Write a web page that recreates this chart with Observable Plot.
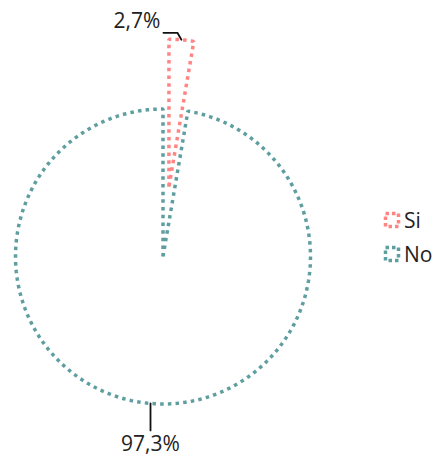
<!DOCTYPE html>
<html>
<head>
<meta charset="utf-8">
<script src="https://cdn.jsdelivr.net/npm/d3@7"></script>
<script src="https://cdn.jsdelivr.net/npm/@observablehq/plot@0.6"></script>
<style>
  html, body { margin: 0; padding: 0; background: #fff; }
  #wrap { position: relative; width: 435px; height: 457px; font-family: "Open Sans", sans-serif; }
  #chart { position: absolute; left: 0; top: 0; }
  #legend { position: absolute; left: 383px; top: 203px; font-size: 21px; color: #222; }
  .item { display: flex; align-items: center; height: 34px; }
  .item svg { margin-right: 3px; }
</style>
</head>
<body>
<div id="wrap"><div id="chart"></div><div id="legend"></div></div>
<script>
// ---- data ----
const categories = ["Si", "No"];
const values = [2.7, 97.3];
const labels = ["2,7%", "97,3%"];
const colors = ["#ff8585", "#5f9ea0"];

// ---- layout constants ----
const W = 435, H = 457;
const R = 147.5;           // pie radius in px
const CX = 162.5, CY = 256; // pie centre in px
const EXPLODE_PX = 70;     // offset for the pulled-out slice

const pie = d3.pie().sort(null).value(d => d.value)(
  categories.map((c, i) => ({category: c, value: values[i], label: labels[i]}))
);

const ex = EXPLODE_PX / R;
const outline = [];
const labelPts = [];
pie.forEach((s, i) => {
  const mid = (s.startAngle + s.endAngle) / 2;
  const off = i === 0 ? ex : 0;
  const ox = off * Math.sin(mid), oy = off * Math.cos(mid);
  const cat = s.data.category;
  outline.push({x: ox, y: oy, category: cat});
  const n = Math.max(4, Math.ceil((s.endAngle - s.startAngle) / (Math.PI / 180)));
  for (let k = 0; k <= n; k++) {
    const a = s.startAngle + (s.endAngle - s.startAngle) * k / n;
    outline.push({x: ox + Math.sin(a), y: oy + Math.cos(a), category: cat});
  }
  outline.push({x: ox, y: oy, category: cat});
  const px = ox + Math.sin(mid), py = oy + Math.cos(mid);
  labelPts.push({x: px, y: py, label: s.data.label, top: Math.cos(mid) > 0});
});

// leader lines built from the arc midpoints
const lead = [];
labelPts.forEach((p, i) => {
  if (p.top) {
    lead.push({x: p.x, y: p.y, g: i});
    lead.push({x: p.x - 4 / R, y: p.y + 7 / R, g: i});
    lead.push({x: p.x - 18 / R, y: p.y + 7 / R, g: i});
  } else {
    lead.push({x: p.x, y: p.y, g: i});
    lead.push({x: p.x, y: p.y - 27 / R, g: i});
  }
});

const chart = Plot.plot({
  width: W,
  height: H,
  margin: 0,
  x: {type: "linear", domain: [-CX / R, (W - CX) / R], axis: null},
  y: {type: "linear", domain: [-(H - CY) / R, CY / R], axis: null},
  color: {domain: categories, range: colors},
  style: {fontFamily: "Open Sans, sans-serif", background: "white"},
  marks: [
    Plot.line(outline, {
      x: "x", y: "y", z: "category", stroke: "category",
      strokeWidth: 3.5, strokeDasharray: "3.5,4.2", strokeLinecap: "butt",
      strokeLinejoin: "miter", curve: "linear"
    }),
    Plot.line(lead, {x: "x", y: "y", z: "g", stroke: "#111", strokeWidth: 1.8}),
    Plot.text(labelPts.filter(d => d.top), {
      x: "x", y: "y", text: "label", textAnchor: "end",
      dx: -21, dy: -19, fontSize: 21, fill: "#222"
    }),
    Plot.text(labelPts.filter(d => !d.top), {
      x: "x", y: "y", text: "label", textAnchor: "middle",
      dy: 41, fontSize: 21, fill: "#222"
    })
  ]
});
document.getElementById("chart").appendChild(chart);

// legend
const legend = document.getElementById("legend");
categories.forEach((c, i) => {
  const item = document.createElement("div");
  item.className = "item";
  item.innerHTML = `<svg width="18" height="18"><rect x="2.5" y="2.5" width="13" height="13" fill="none" stroke="${colors[i]}" stroke-width="3.5" stroke-dasharray="3.5,3"></rect></svg><span>${c}</span>`;
  legend.appendChild(item);
});
</script>
</body>
</html>
